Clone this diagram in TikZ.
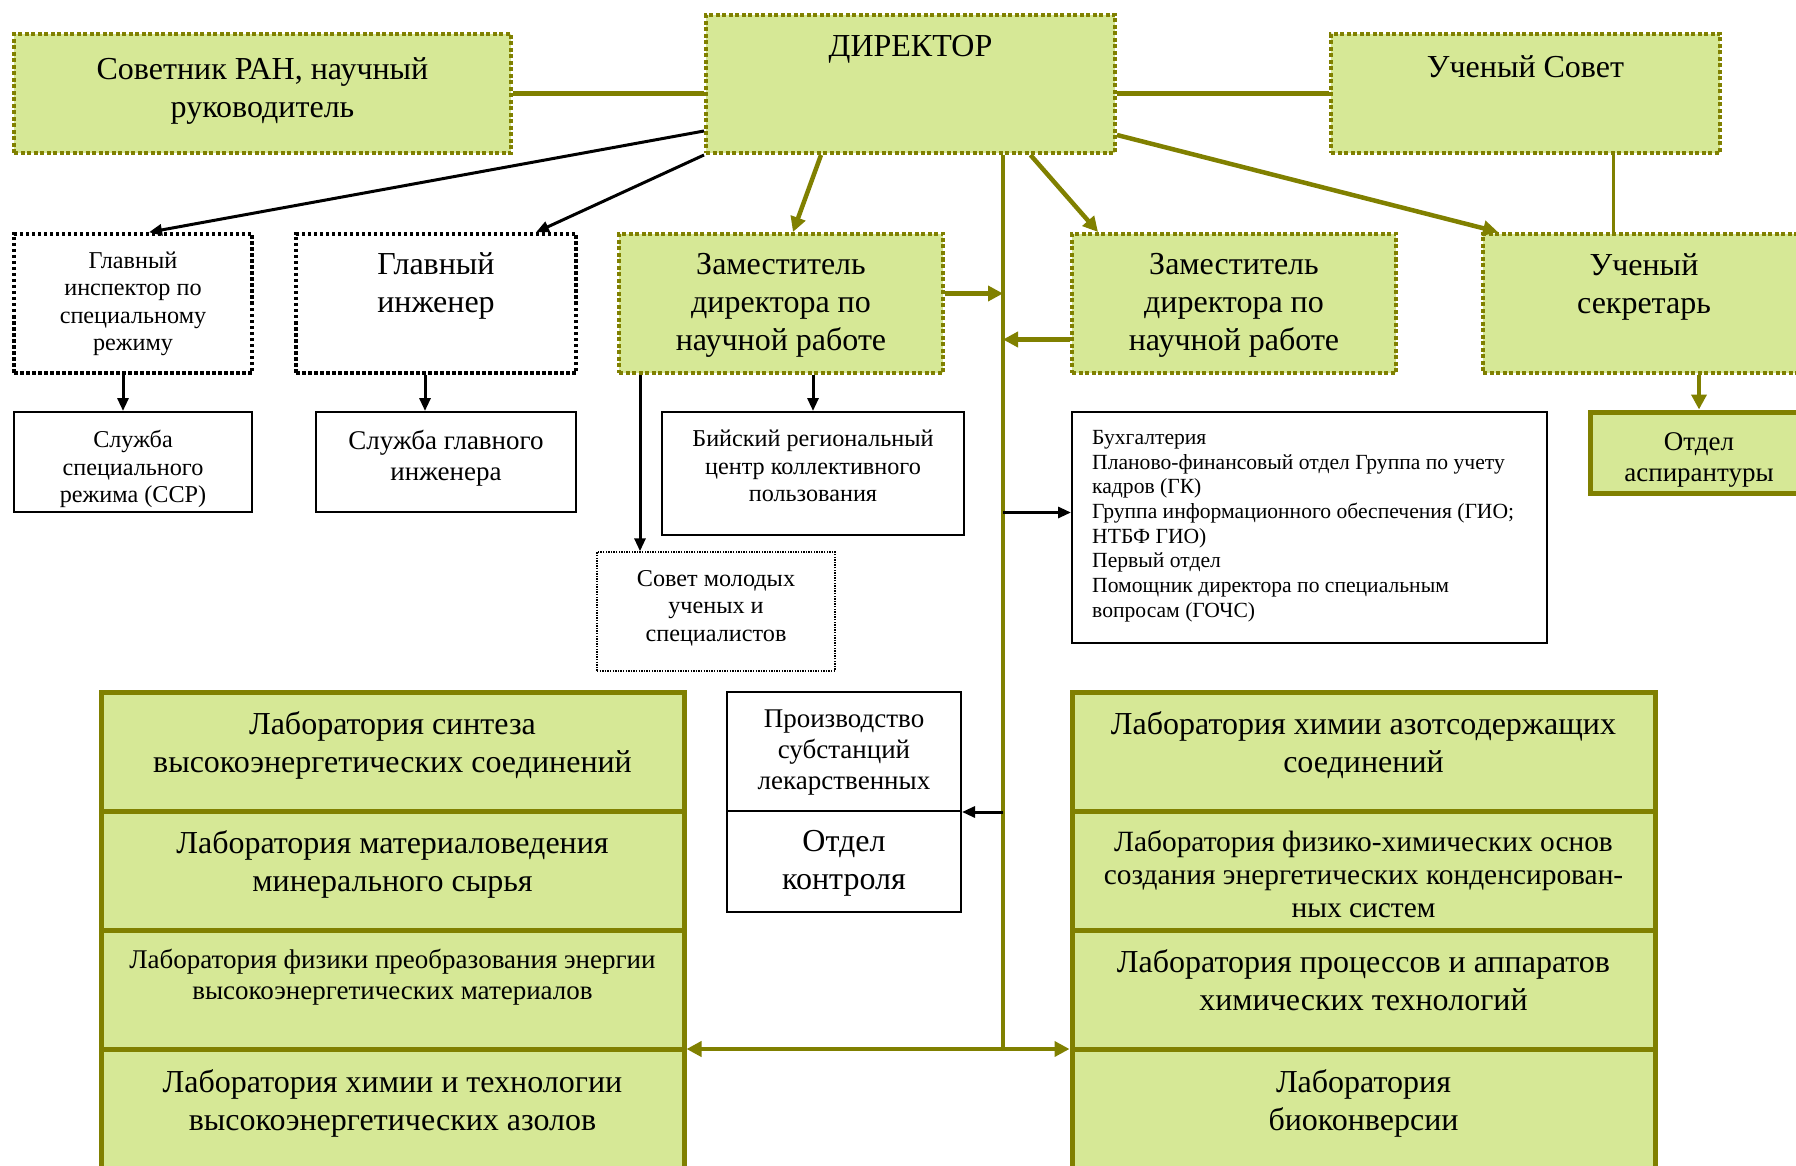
\documentclass[tikz,border=0pt]{standalone}
\usepackage{fontspec}
\setmainfont{Liberation Serif}
\usetikzlibrary{positioning, arrows.meta}
\definecolor{leaf}{RGB}{214,232,150}
\definecolor{olv}{RGB}{128,128,0}
\newcommand{\fbig}{\fontsize{32}{38}\selectfont}
\newcommand{\fmid}{\fontsize{27}{31}\selectfont}
\newcommand{\fsml}{\fontsize{24.2}{27.5}\selectfont}
\newcommand{\ftny}{\fontsize{21.6}{24.7}\selectfont}
\tikzset{
    x=1pt, y=-1pt, % pixel-like units, y grows downwards
    >={Triangle[length=13pt, width=11pt]}, % arrow heads
    sz/.style 2 args={minimum width=#1pt, minimum height=#2pt, inner sep=0pt},
    greenbox/.style={draw=olv, fill=leaf, line width=4pt, dash pattern=on 4pt off 2.5pt}, % dotted green boxes
    blackdot/.style={draw=black, line width=3.5pt, dash pattern=on 3.5pt off 2.5pt},
    thindot/.style={draw=black, line width=1.4pt, dash pattern=on 1.4pt off 1.2pt},
    plainbox/.style={draw=black, line width=2pt},
    labbox/.style={draw=olv, fill=leaf, line width=5pt},
    txt/.style={inner sep=0pt, align=center, font=\fbig},
    oline/.style={draw=olv, line width=5pt},
    oarrow/.style={draw=olv, line width=4.5pt, -{Triangle[length=15pt, width=15pt]}},
    barrow/.style={draw=black, line width=3pt, ->},
}
\begin{document}
\begin{tikzpicture}
\useasboundingbox (0,0) rectangle (1796,1166);

% top row
\node[greenbox, sz={497}{119}] (adv) at (262.5,93.5) {};
\node[greenbox, sz={409}{138}] (dir) at (910.5,84) {};
\node[greenbox, sz={389}{119}] (council) at (1525.5,93.5) {};
\node[txt, below=25pt of adv.north] (tadv) {Советник РАН, научный\\руководитель};
\node[txt, below=22pt of dir.north] (tdir) {ДИРЕКТОР};
\node[txt, below=23pt of council.north] (tcouncil) {Ученый Совет};

% second row
\node[blackdot, sz={238}{139}] (insp) at (133,303.5) {};
\node[blackdot, sz={280}{139}] (eng) at (436,303.5) {};
\node[greenbox, sz={324}{139}] (depA) at (781,303.5) {};
\node[greenbox, sz={324}{139}] (depB) at (1234,303.5) {};
\node[greenbox, sz={322}{139}] (sec) at (1644,303.5) {};
\node[txt, font=\fsml, below=19pt of insp.north] (tinsp) {Главный\\инспектор по\\специальному\\режиму};
\node[txt, below=20.5pt of eng.north] (teng) {Главный\\инженер};
\node[txt, below=21.5pt of depA.north] (tdepA) {Заместитель\\директора по\\научной работе};
\node[txt, below=21.5pt of depB.north] (tdepB) {Заместитель\\директора по\\научной работе};
\node[txt, below=21pt of sec.north] (tsec) {Ученый\\секретарь};

% third row
\node[plainbox, sz={238}{100}] (ssr) at (133,462) {};
\node[plainbox, sz={260}{100}] (engsrv) at (446,462) {};
\node[plainbox, sz={302}{123}] (ckp) at (813,473.5) {};
\node[thindot, sz={238}{119}] (youth) at (716,611.5) {};
\node[plainbox, sz={475}{231}] (acc) at (1309.5,527.5) {};
\node[draw=olv, fill=leaf, line width=5pt, sz={218}{81}] (grad) at (1699,452.5) {};
\begin{scope}
\clip (ssr.north west) rectangle (ssr.south east);
\node[txt, font=\fsml, below=19pt of ssr.north] (tssr) {Служба\\специального\\режима (ССР)};
\end{scope}
\node[txt, font=\fmid, below=18.5pt of engsrv.north] (tengsrv) {Служба главного\\инженера};
\node[txt, font=\fsml, below=19pt of ckp.north] (tckp) {Бийский региональный\\центр коллективного\\пользования};
\node[txt, font=\fsml, below=18.5pt of youth.north] (tyouth) {Совет молодых\\ученых и\\специалистов};
\node[txt, font=\ftny, align=left, below right=19pt and 21pt of acc.north west] (tacc) {Бухгалтерия\\Планово-финансовый отдел Группа по учету\\кадров (ГК)\\Группа информационного обеспечения (ГИО;\\НТБФ ГИО)\\Первый отдел\\Помощник директора по специальным\\вопросам (ГОЧС)};
\begin{scope}
\clip (grad.north west) rectangle (grad.south east);
\node[txt, font=\fmid, below=23pt of grad.north] (tgrad) {Отдел\\аспирантуры};
\end{scope}

% production
\node[plainbox, sz={234}{119}] (prodA) at (844,751.5) {};
\node[plainbox, sz={234}{101}] (prodB) at (844,861.5) {};
\node[txt, font=\fmid, below=18.5pt of prodA.north] (tprodA) {Производство\\субстанций\\лекарственных};
\node[txt, below=20pt of prodB.north] (tprodB) {Отдел\\контроля};

% laboratories
\node[labbox, sz={583}{119}] (labL1) at (392.5,751.5) {};
\node[labbox, sz={583}{119}] (labL2) at (392.5,870.5) {};
\node[labbox, sz={583}{119}] (labL3) at (392.5,989.5) {};
\node[labbox, sz={583}{119}] (labL4) at (392.5,1108.5) {};
\node[labbox, sz={583}{119}] (labR1) at (1363.5,751.5) {};
\node[labbox, sz={583}{119}] (labR2) at (1363.5,870.5) {};
\node[labbox, sz={583}{119}] (labR3) at (1363.5,989.5) {};
\node[labbox, sz={583}{119}] (labR4) at (1363.5,1108.5) {};
\node[txt, below=21.5pt of labL1.north] (tL1) {Лаборатория синтеза\\высокоэнергетических соединений};
\node[txt, below=22pt of labL2.north] (tL2) {Лаборатория материаловедения\\минерального сырья};
\node[txt, font=\fmid, below=21pt of labL3.north] (tL3) {Лаборатория физики преобразования энергии\\высокоэнергетических материалов};
\node[txt, below=23pt of labL4.north] (tL4) {Лаборатория химии и технологии\\высокоэнергетических азолов};
\node[txt, below=22pt of labR1.north] (tR1) {Лаборатория химии азотсодержащих\\соединений};
\node[txt, font=\fontsize{29.4}{33}\selectfont, below=21.5pt of labR2.north] (tR2) {Лаборатория физико-химических основ\\создания энергетических конденсирован-\\ных систем};
\node[txt, below=22pt of labR3.north] (tR3) {Лаборатория процессов и аппаратов\\химических технологий};
\node[txt, below=23pt of labR4.north] (tR4) {Лаборатория\\биоконверсии};

% connectors
\coordinate (hub) at (1003,1049);
\coordinate (cs) at ([xshift=-31pt]sec.north);
\coordinate (p1) at ([yshift=10pt]depA.east);
\coordinate (p2) at ([yshift=-36pt]depB.west);
\coordinate (p3) at ([yshift=15pt]acc.west);
\draw[oline] (adv.east) -- (adv.east -| dir.west);
\draw[oline] (council.west) -- (council.west -| dir.east);
\draw[draw=olv, line width=3pt] (cs) -- (cs |- council.south);
\draw[draw=olv, line width=4.5pt] (dir.south -| hub) -- (hub);
\draw[barrow] ([yshift=-47pt]dir.west) -- ([xshift=16pt]insp.north);
\draw[barrow] (dir.south west) -- ([xshift=100pt]eng.north);
\draw[oarrow] ([xshift=-89.5pt]dir.south) -- ([xshift=12pt]depA.north);
\draw[oarrow] ([xshift=120pt]dir.south) -- ([xshift=28pt]depB.north west);
\draw[oarrow] ([yshift=-51pt]dir.east) -- ([xshift=17pt]sec.north west);
\draw[oarrow] (p1) -- (p1 -| hub);
\draw[oarrow] (p2) -- (p2 -| hub);
\draw[barrow] ([xshift=-10pt]insp.south) -- ([xshift=-10pt]ssr.north);
\draw[barrow] ([xshift=-11pt]eng.south) -- ([xshift=-21pt]engsrv.north);
\draw[barrow] (depA.south -| ckp.north) -- (ckp.north);
\draw[barrow] ([xshift=-141pt]depA.south) -- ([xshift=-76pt]youth.north);
\draw[oarrow] (sec.south -| grad.north) -- (grad.north);
\draw[barrow] (p3 -| hub) -- (p3);
\draw[barrow] (prodA.south -| hub) -- (prodA.south -| prodA.east);
\draw[oarrow] (hub) -- (hub -| labL3.east);
\draw[oarrow] (hub) -- (hub -| labR3.west);
\end{tikzpicture}
\end{document}
